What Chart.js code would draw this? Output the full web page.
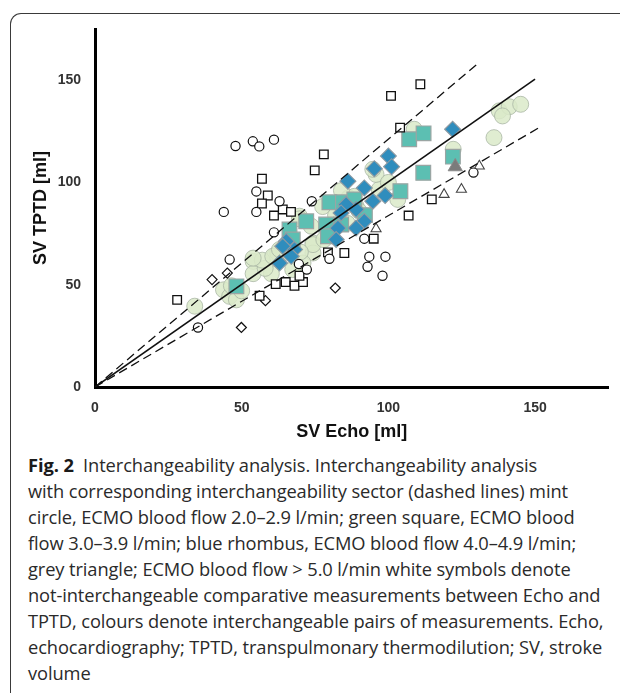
<!DOCTYPE html>
<html>
<head>
<meta charset="utf-8">
<script src="https://cdn.jsdelivr.net/npm/chart.js@4/dist/chart.umd.min.js"></script>
<style>
  html, body { margin: 0; padding: 0; background: #fff; }
  body { width: 620px; height: 693px; position: relative; overflow: hidden; }
  #frame { position: absolute; left: 10px; top: 13px; width: 700px; height: 800px;
    border-left: 1.3px solid #3a3a3a; border-top: 1.3px solid #3a3a3a; border-top-left-radius: 11px; box-sizing: border-box; }
  #c { position: absolute; left: 0; top: 0; }
  #caption { position: absolute; left: 28px; top: 452px; font-family: "Open Sans", sans-serif; font-size: 18.3px;
    line-height: 26px; color: #2a2a2a; white-space: nowrap; letter-spacing: -0.1px; }
  #caption b { font-weight: 700; color: #1a1a1a; }
</style>
</head>
<body>
<div id="frame"></div>
<canvas id="c" width="620" height="445"></canvas>
<div id="caption">
<div><b>Fig. 2</b>&nbsp; Interchangeability analysis. Interchangeability analysis</div>
<div>with corresponding interchangeability sector (dashed lines) mint</div>
<div>circle, ECMO blood flow 2.0–2.9 l/min; green square, ECMO blood</div>
<div>flow 3.0–3.9 l/min; blue rhombus, ECMO blood flow 4.0–4.9 l/min;</div>
<div>grey triangle; ECMO blood flow &gt; 5.0 l/min white symbols denote</div>
<div>not-interchangeable comparative measurements between Echo and</div>
<div>TPTD, colours denote interchangeable pairs of measurements. Echo,</div>
<div>echocardiography; TPTD, transpulmonary thermodilution; SV, stroke</div>
<div>volume</div>
</div>
<script>
// ---- Data (SV Echo [ml] = x, SV TPTD [ml] = y) ----
const xTicks = [0, 50, 100, 150];
const yTicks = [0, 50, 100, 150];
const xTitle = "SV Echo [ml]";
const yTitle = "SV TPTD [ml]";

// Interchangeable: mint circle (ECMO 2.0–2.9 l/min)
const mintX = [34, 43.8, 45.9, 48.2, 46.5, 53.9, 53.9, 60.1, 61.2, 64, 65.2, 62.3, 58, 57, 50,
  69.7, 74.3, 74.3, 60.6, 62.9, 86.5, 89, 96.9, 95.8, 103.2, 88.4, 73.7, 69.7, 74.3, 53.9,
  94.7, 70.9, 67.4, 66, 70, 78, 82, 86, 90, 84, 100, 77.6,
  137.8, 141.2, 145.1, 138.9, 136, 122.1, 108.8];
const mintY = [39.5, 47.5, 44.3, 42.6, 49.5, 61.4, 55.4, 55.4, 64, 65.5, 67.2, 65.5, 58, 62, 47,
  83.5, 70.4, 65.5, 63.9, 67.2, 92.5, 88.4, 96.6, 103.9, 91.7, 93.2, 78.6, 82.2, 69.6, 63,
  106.4, 60.6, 57.4, 70, 66, 72, 84, 80, 86, 96, 100, 88.2,
  135, 137, 138.2, 132.5, 121.9, 116.2, 126];

// Interchangeable: green square (ECMO 3.0–3.9 l/min)
const squareX = [48.2, 66.3, 107.1, 112, 111.9, 122, 104.1, 79.9, 84.5, 88.4, 72, 78.8, 83.9, 79.4, 67.4, 92];
const squareY = [49.2, 77, 121.1, 124, 104.7, 112.6, 95.7, 90.3, 90.3, 91.7, 81, 79.4, 79.4, 73.7, 72.1, 84];

// Interchangeable: blue rhombus (ECMO 4.0–4.9 l/min)
const rhombX = [121.9, 100, 101.1, 95.2, 86.2, 91.8, 98.9, 94.7, 89, 85.6, 91.8, 89, 82.8, 82.2, 65.2, 68, 64, 62.9, 66.9, 83.9];
const rhombY = [126, 112.9, 107.7, 106.7, 100.6, 97.3, 93.6, 90.8, 86.8, 89.2, 81, 77.7, 77.7, 72.1, 71.2, 67.2, 68.8, 60.6, 63.9, 85.1];

// Interchangeable: grey triangle (ECMO > 5.0 l/min)
const greyX = [122.8];
const greyY = [107.7];

// Not interchangeable (white symbols)
const wCircleX = [47.9, 53.8, 56.0, 61.0, 55.0, 62.9, 43.9, 55.0, 61.0, 73.9, 45.9, 35.1, 91.8, 93.5, 99, 92.9, 98, 129, 79.9, 69.5, 72.2];
const wCircleY = [117.8, 120.1, 117.6, 120.9, 95.6, 90.8, 85.6, 85.6, 75.6, 90.8, 62.3, 29.1, 72.5, 63.7, 63.7, 58.8, 54.4, 104.8, 62.7, 60.1, 57.4];
const wSquareX = [78, 74.9, 56.9, 58.9, 56.9, 64, 61, 66.8, 110.9, 100.9, 104, 114.8, 106.9, 95, 85, 79.4, 61.6, 65, 68, 70.9, 69.7, 56.1, 28];
const wSquareY = [113.7, 105.9, 101.8, 93.6, 89.7, 86.8, 83.8, 85.6, 148, 142.3, 126.8, 91.7, 83.8, 72.5, 65.5, 65.8, 50.3, 51.3, 49.5, 51.3, 54.4, 44.6, 42.6];
const wDiamondX = [39.9, 45.1, 58.1, 49.9, 81.9];
const wDiamondY = [52.5, 55.7, 42.2, 29.1, 48.4];
const wTriangleX = [95.8, 119, 124.9, 131];
const wTriangleY = [77.3, 94.1, 96.6, 108];

// Lines: identity and interchangeability sector
const identityX = [0, 150];
const identityY = [0, 150.5];
const upperX = [0, 130];
const upperY = [0, 157.5];
const lowerX = [0, 152];
const lowerY = [0, 127.3];

const pts = (xs, ys) => xs.map((x, i) => ({ x: x, y: ys[i] }));

const lineDs = (xs, ys, dash, w) => ({
  type: 'line', data: pts(xs, ys), borderColor: '#111', borderWidth: w, borderDash: dash,
  pointRadius: 0, fill: false, showLine: true, order: 0, tension: 0
});

const markerDs = (xs, ys, style, r, fill, stroke, bw, order) => ({
  type: 'scatter', data: pts(xs, ys), pointStyle: style, pointRadius: r, pointHoverRadius: r,
  backgroundColor: fill, borderColor: stroke, pointBorderWidth: bw, borderWidth: bw, order: order
});

const datasets = [
  lineDs(identityX, identityY, [], 1.6),
  lineDs(upperX, upperY, [9, 5], 1.3),
  lineDs(lowerX, lowerY, [9, 5], 1.3),
  markerDs(wCircleX, wCircleY, 'circle', 4.6, '#fff', '#111', 1.2, 1),
  markerDs(wSquareX, wSquareY, 'rect', 6.1, '#fff', '#111', 1.3, 1),
  markerDs(wDiamondX, wDiamondY, 'rectRot', 5, '#fff', '#111', 1.2, 1),
  markerDs(wTriangleX, wTriangleY, 'triangle', 5.8, '#fff', '#444', 1.1, 1),
  markerDs(greyX, greyY, 'triangle', 8.2, '#7b7b7b', '#8a8a8a', 1, 2),
  markerDs(rhombX, rhombY, 'rectRot', 8, '#2f8dbd', '#8e9aa2', 1.1, 3),
  markerDs(squareX, squareY, 'rect', 10.4, '#5cbfb2', '#9aa5a3', 1.2, 4),
  markerDs(mintX, mintY, 'circle', 8, 'rgba(219,234,201,0.85)', 'rgba(170,182,165,0.8)', 1, 5)
];

const tickFont = { family: '"Liberation Sans", Arial, sans-serif', size: 14, weight: 'bold' };
const titleFont = { family: '"Liberation Sans", Arial, sans-serif', size: 18, weight: 'bold', lineHeight: 1.2 };

new Chart(document.getElementById('c'), {
  type: 'scatter',
  data: { datasets: datasets },
  options: {
    responsive: false,
    animation: false,
    events: [],
    layout: { padding: { left: 0, top: 29, right: 10, bottom: 0 } },
    plugins: { legend: { display: false }, tooltip: { enabled: false } },
    scales: {
      x: {
        type: 'linear', min: 0, max: 175,
        grid: { display: true, color: 'rgba(0,0,0,0)', drawTicks: false },
        border: { display: true, color: '#000', width: 3 },
        ticks: { font: tickFont, color: '#333', padding: 13, maxRotation: 0 },
        afterBuildTicks: s => { s.ticks = xTicks.map(v => ({ value: v })); },
        afterFit: s => { s.height = 445 - 387; },
        title: { display: true, text: xTitle, font: titleFont, color: '#111', padding: { top: 0, bottom: 2 } }
      },
      y: {
        type: 'linear', min: 0, max: 175,
        grid: { display: true, color: 'rgba(0,0,0,0)', drawTicks: false },
        border: { display: true, color: '#000', width: 3 },
        ticks: { font: tickFont, color: '#333', padding: 14 },
        afterBuildTicks: s => { s.ticks = yTicks.map(v => ({ value: v })); },
        afterFit: s => { s.width = 95; },
        title: { display: true, text: yTitle, font: titleFont, color: '#111', padding: { top: 30, bottom: 0 } }
      }
    }
  }
});
</script>
</body>
</html>
